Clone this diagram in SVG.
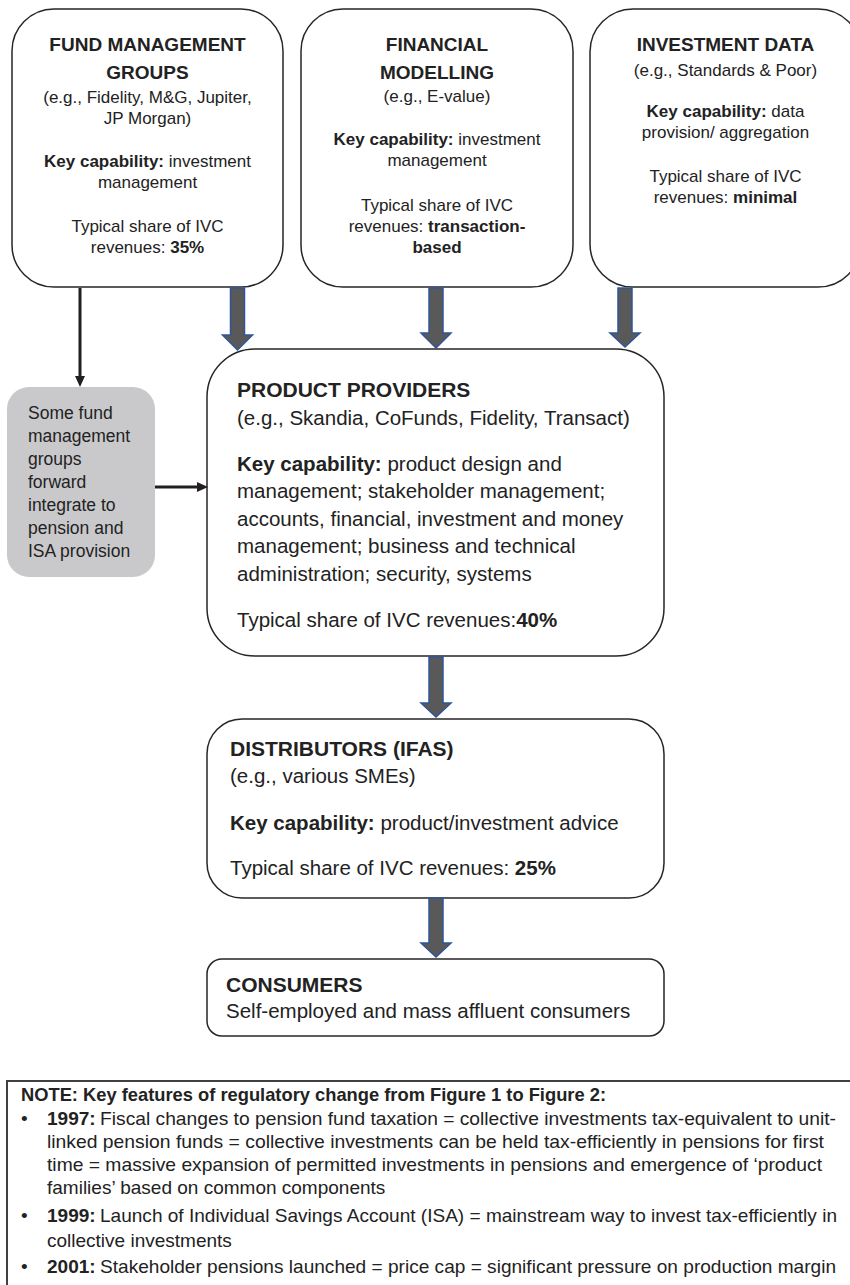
<svg xmlns="http://www.w3.org/2000/svg" width="850" height="1285" viewBox="0 0 850 1285">
<style>
text{font-family:"Liberation Sans",Arial,sans-serif;fill:#222}
.box{fill:#fff;stroke:#262626;stroke-width:1.5}
.gray{fill:#c9c9cb;stroke:none}
.top{font-size:17px;text-anchor:middle}
.toph{font-size:19px;font-weight:bold;text-anchor:middle}
.mid{font-size:20.5px}
.midh{font-size:21px;font-weight:bold}
.side{font-size:17.5px}
.note{font-size:19px}
.b{font-weight:bold}
.blk{fill:#595959;stroke:#2f5597;stroke-width:1.5;stroke-linejoin:miter}
.line{stroke:#231f20;stroke-width:3;fill:none}
</style>
<defs>
<marker id="ah" markerUnits="userSpaceOnUse" markerWidth="12" markerHeight="12" refX="0" refY="6" orient="auto" viewBox="0 0 12 12">
<path d="M0,1 L11,6 L0,11 Z" fill="#231f20"/>
</marker>
</defs>

<g id="fund-management">
<rect class="box" x="12" y="9" width="271" height="278" rx="42"/>
<text class="toph" x="147.5" y="51">FUND MANAGEMENT</text>
<text class="toph" x="147.5" y="79">GROUPS</text>
<text class="top" x="147.5" y="103">(e.g., Fidelity, M&amp;G, Jupiter,</text>
<text class="top" x="147.5" y="124">JP Morgan)</text>
<text class="top" x="147.5" y="167"><tspan class="b">Key capability:</tspan> investment</text>
<text class="top" x="147.5" y="188">management</text>
<text class="top" x="147.5" y="232">Typical share of IVC</text>
<text class="top" x="147.5" y="253">revenues: <tspan class="b">35%</tspan></text>
</g>

<g id="financial-modelling">
<rect class="box" x="301" y="9" width="272" height="278" rx="42"/>
<text class="toph" x="437" y="51">FINANCIAL</text>
<text class="toph" x="437" y="79">MODELLING</text>
<text class="top" x="437" y="102">(e.g., E-value)</text>
<text class="top" x="437" y="145"><tspan class="b">Key capability:</tspan> investment</text>
<text class="top" x="437" y="166">management</text>
<text class="top" x="437" y="211">Typical share of IVC</text>
<text class="top" x="437" y="232">revenues: <tspan class="b">transaction-</tspan></text>
<text class="top b" x="437" y="253">based</text>
</g>

<g id="investment-data">
<rect class="box" x="590" y="9" width="271" height="278" rx="43"/>
<text class="toph" x="725.5" y="51">INVESTMENT DATA</text>
<text class="top" x="725.5" y="76">(e.g., Standards &amp; Poor)</text>
<text class="top" x="725.5" y="117"><tspan class="b">Key capability:</tspan> data</text>
<text class="top" x="725.5" y="138">provision/ aggregation</text>
<text class="top" x="725.5" y="182">Typical share of IVC</text>
<text class="top" x="725.5" y="203">revenues: <tspan class="b">minimal</tspan></text>
</g>

<g id="forward-integration">
<rect class="gray" x="7" y="387" width="148" height="190" rx="22"/>
<text class="side" x="28" y="419">Some fund</text>
<text class="side" x="28" y="442">management</text>
<text class="side" x="28" y="465">groups</text>
<text class="side" x="28" y="488">forward</text>
<text class="side" x="28" y="511">integrate to</text>
<text class="side" x="28" y="534">pension and</text>
<text class="side" x="28" y="557">ISA provision</text>
</g>

<g id="product-providers">
<rect class="box" x="207" y="349" width="457" height="307" rx="48"/>
<text class="midh" x="237" y="397">PRODUCT PROVIDERS</text>
<text class="mid" x="237" y="425">(e.g., Skandia, CoFunds, Fidelity, Transact)</text>
<text class="mid" x="237" y="471"><tspan class="b">Key capability:</tspan> product design and</text>
<text class="mid" x="237" y="498">management; stakeholder management;</text>
<text class="mid" x="237" y="526">accounts, financial, investment and money</text>
<text class="mid" x="237" y="553">management; business and technical</text>
<text class="mid" x="237" y="581">administration; security, systems</text>
<text class="mid" x="237" y="627">Typical share of IVC revenues:<tspan class="b">40%</tspan></text>
</g>

<g id="distributors">
<rect class="box" x="207" y="719" width="457" height="179" rx="35"/>
<text class="midh" x="230" y="756">DISTRIBUTORS (IFAS)</text>
<text class="mid" x="230" y="783">(e.g., various SMEs)</text>
<text class="mid" x="230" y="830"><tspan class="b">Key capability:</tspan> product/investment advice</text>
<text class="mid" x="230" y="875">Typical share of IVC revenues: <tspan class="b">25%</tspan></text>
</g>

<g id="consumers">
<rect class="box" x="207" y="959" width="457" height="77" rx="15"/>
<text class="midh" x="226" y="992">CONSUMERS</text>
<text class="mid" x="226" y="1018">Self-employed and mass affluent consumers</text>
</g>

<g id="connectors">
<path class="blk" d="M230.5,288 H244.5 V335 H252.5 L237.5,350 L222.5,335 H230.5 Z"/>
<path class="blk" d="M429,288 H443 V333 H451 L436,348 L421,333 H429 Z"/>
<path class="blk" d="M618,288 H632 V333 H640 L625,347 L610,333 H618 Z"/>
<path class="blk" d="M429,657 H443 V703 H451 L436,717 L421,703 H429 Z"/>
<path class="blk" d="M429,898 H443 V943 H451 L436,957 L421,943 H429 Z"/>
<line class="line" x1="80" y1="288" x2="80" y2="376" marker-end="url(#ah)"/>
<line class="line" x1="155" y1="487" x2="197" y2="487" marker-end="url(#ah)"/>
</g>

<g id="note">
<rect x="7" y="1081" width="900" height="300" fill="none" stroke="#404040" stroke-width="2"/>
<text class="note b" x="21" y="1101" textLength="585" lengthAdjust="spacingAndGlyphs">NOTE: Key features of regulatory change from Figure 1 to Figure 2:</text>
<text class="note" x="21" y="1125">•</text>
<text class="note b" x="47" y="1125">1997:</text>
<text class="note" x="100" y="1125" textLength="736" lengthAdjust="spacingAndGlyphs">Fiscal changes to pension fund taxation = collective investments tax-equivalent to unit-</text>
<text class="note" x="47" y="1148" textLength="777" lengthAdjust="spacingAndGlyphs">linked pension funds = collective investments can be held tax-efficiently in pensions for first</text>
<text class="note" x="47" y="1171" textLength="775" lengthAdjust="spacingAndGlyphs">time = massive expansion of permitted investments in pensions and emergence of ‘product</text>
<text class="note" x="47" y="1194">families’ based on common components</text>
<text class="note" x="21" y="1222">•</text>
<text class="note b" x="47" y="1222">1999:</text>
<text class="note" x="100" y="1222" textLength="737" lengthAdjust="spacingAndGlyphs">Launch of Individual Savings Account (ISA) = mainstream way to invest tax-efficiently in</text>
<text class="note" x="47" y="1247">collective investments</text>
<text class="note" x="21" y="1273">•</text>
<text class="note b" x="47" y="1273">2001:</text>
<text class="note" x="100" y="1273" textLength="736" lengthAdjust="spacingAndGlyphs">Stakeholder pensions launched = price cap = significant pressure on production margin</text>
</g>
</svg>
